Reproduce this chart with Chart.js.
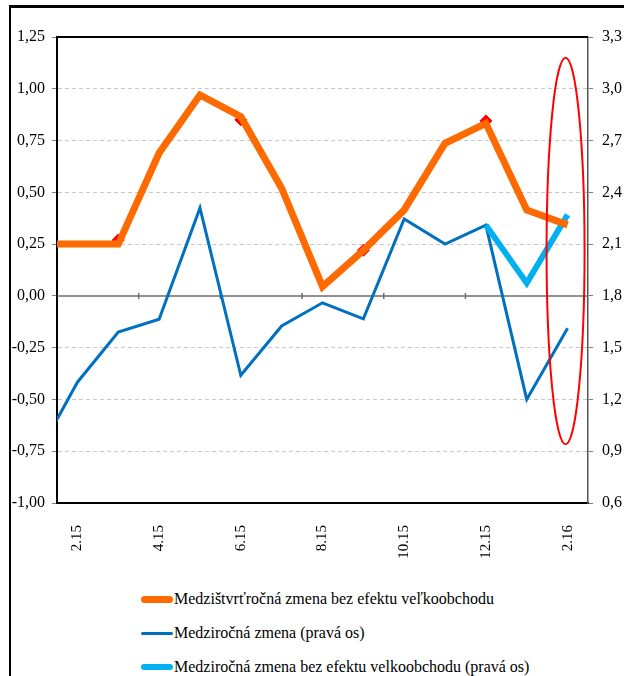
<!DOCTYPE html>
<html>
<head>
<meta charset="utf-8">
<script src="https://cdn.jsdelivr.net/npm/chart.js@4.4.1/dist/chart.umd.min.js"></script>
<style>
  html, body { margin: 0; padding: 0; background: #fff; }
  body { width: 624px; height: 676px; position: relative; overflow: hidden; }
  .frame-top { position: absolute; left: 9px; top: 5px; width: 615px; height: 3px; background: #000; z-index: 5; }
  .frame-left { position: absolute; left: 9px; top: 5px; width: 2px; height: 671px; background: #000; z-index: 5; }
  #chart { position: absolute; left: 0; top: 0; }
  .legend { position: absolute; left: 141px; top: 582px;
            font-family: "Liberation Serif", "DejaVu Serif", serif; font-size: 16px; color: #000; }
  .legend .row { height: 34px; display: flex; align-items: center; white-space: nowrap; }
  .legend .swatch { display: inline-block; width: 32px; border-radius: 4px; margin-right: 1px; }
</style>
</head>
<body>
<canvas id="chart" width="624" height="560"></canvas>
<div class="legend" id="legend"></div>
<div class="frame-top"></div>
<div class="frame-left"></div>

<script>
// === Data ===
const months = ["1.15", "2.15", "3.15", "4.15", "5.15", "6.15", "7.15", "8.15", "9.15", "10.15", "11.15", "12.15", "1.16", "2.16"];
const quarterlyExWholesale = [0.25, 0.25, 0.25, 0.69, 0.97, 0.865, 0.52, 0.045, 0.22, 0.415, 0.737, 0.833, 0.415, 0.343];
const quarterlyMarkers = [null, null, 0.27, null, null, 0.85, null, null, 0.22, null, null, 0.845, null, null];
const yearly = [0.87, 1.30, 1.59, 1.665, 2.31, 1.34, 1.626, 1.76, 1.667, 2.246, 2.10, 2.21, 1.20, 1.613];
const yearlyExWholesale = [null, null, null, null, null, null, null, null, null, null, null, 2.21, 1.874, 2.27];

const seriesNames = [
  "Medzištvrťročná zmena bez efektu veľkoobchodu",
  "Medziročná zmena (pravá os)",
  "Medziročná zmena bez efektu velkoobchodu (pravá os)"
];

// highlighted month (red ellipse), in right axis units
const highlightMonth = "2.16";
const highlightTop = 3.18;
const highlightBottom = 0.94;

const ORANGE = "#ff6a00";
const BLUE = "#0070c0";
const CYAN = "#00b0f0";
const FONT = "'Liberation Serif', 'DejaVu Serif', serif";

const fmt = (v, d) => v.toFixed(d).replace(".", ",");

// === Extras: zero line, axis ticks, top border, ellipse ===
const extrasPlugin = {
  id: "extras",
  beforeDatasetsDraw(chart) {
    const { ctx, chartArea: a, scales } = chart;
    const x = scales.x, y = scales.y;
    const y0 = y.getPixelForValue(0);
    ctx.save();
    ctx.strokeStyle = "#6e6e6e";
    ctx.lineWidth = 1.5;
    ctx.beginPath();
    ctx.moveTo(a.left, y0);
    ctx.lineTo(a.right, y0);
    for (let i = 3; i < months.length; i += 2) {
      const px = (x.getPixelForValue(i - 1) + x.getPixelForValue(i)) / 2;
      ctx.moveTo(px, y0 - 3);
      ctx.lineTo(px, y0 + 3);
    }
    ctx.stroke();
    ctx.restore();
  },
  afterDraw(chart) {
    const { ctx, chartArea: a, scales } = chart;
    ctx.save();
    ctx.strokeStyle = "#000";
    ctx.lineWidth = 2;
    ctx.beginPath();
    ctx.moveTo(a.left - 1, a.top);
    ctx.lineTo(a.right, a.top);
    ctx.stroke();

    const cx = scales.x.getPixelForValue(months.indexOf(highlightMonth)) - 2;
    const top = scales.y1.getPixelForValue(highlightTop);
    const bottom = scales.y1.getPixelForValue(highlightBottom);
    ctx.strokeStyle = "#ff0000";
    ctx.lineWidth = 2;
    ctx.beginPath();
    ctx.ellipse(cx, (top + bottom) / 2, 19, (bottom - top) / 2, 0, 0, Math.PI * 2);
    ctx.stroke();
    ctx.restore();
  }
};

new Chart(document.getElementById("chart"), {
  type: "line",
  data: {
    labels: months,
    datasets: [
      {
        label: "markers",
        data: quarterlyMarkers,
        yAxisID: "y",
        showLine: false,
        pointStyle: "rectRot",
        pointRadius: 6,
        pointBackgroundColor: "#ff0000",
        pointBorderColor: "#ff0000",
        order: 5
      },
      {
        label: seriesNames[0],
        data: quarterlyExWholesale,
        yAxisID: "y",
        borderColor: ORANGE,
        borderWidth: 7,
        pointRadius: 0,
        tension: 0,
        order: 1
      },
      {
        label: seriesNames[1],
        data: yearly,
        yAxisID: "y1",
        borderColor: BLUE,
        borderWidth: 3,
        pointRadius: 0,
        tension: 0,
        order: 3
      },
      {
        label: seriesNames[2],
        data: yearlyExWholesale,
        yAxisID: "y1",
        borderColor: CYAN,
        borderWidth: 6,
        pointRadius: 0,
        tension: 0,
        order: 2
      }
    ]
  },
  options: {
    responsive: false,
    animation: false,
    layout: { padding: { top: 37, left: 0, right: 0, bottom: 0 } },
    plugins: {
      legend: { display: false },
      tooltip: { enabled: false }
    },
    scales: {
      x: {
        type: "category",
        min: "2.15",
        offset: true,
        afterFit: (s) => { s.height = 57; },
        grid: { display: false },
        border: { color: "#000", width: 2 },
        ticks: {
          autoSkip: false,
          maxRotation: 90,
          minRotation: 90,
          padding: 14,
          color: "#000",
          font: { family: FONT, size: 15 },
          callback(val) { return val % 2 === 1 ? months[val] : ""; }
        }
      },
      y: {
        position: "left",
        min: -1,
        max: 1.25,
        afterFit: (s) => { s.width = 57; },
        border: { color: "#000", width: 2, dash: [4, 3] },
        grid: {
          color: (c) => (c.tick && c.tick.value === 0) ? "rgba(0,0,0,0)" : "#c8c8c8",
          lineWidth: 1,
          tickLength: 5,
          tickColor: "#808080",
          tickBorderDash: []
        },
        ticks: {
          stepSize: 0.25,
          padding: 7,
          color: "#000",
          font: { family: FONT, size: 16 },
          callback: (v) => fmt(v, 2)
        }
      },
      y1: {
        position: "right",
        min: 0.6,
        max: 3.3,
        afterFit: (s) => { s.width = 36; },
        border: { color: "#555", width: 1.5 },
        grid: { drawOnChartArea: false, tickLength: 5, tickColor: "#808080" },
        ticks: {
          stepSize: 0.3,
          padding: 9,
          color: "#000",
          font: { family: FONT, size: 16 },
          callback: (v) => fmt(v, 1)
        }
      }
    }
  },
  plugins: [extrasPlugin]
});

// === Legend ===
const legendItems = [
  { color: ORANGE, width: 7 },
  { color: BLUE, width: 3 },
  { color: CYAN, width: 6 }
];
document.getElementById("legend").innerHTML = legendItems.map((it, i) => `
  <div class="row"><span class="swatch" style="height:${it.width}px;background:${it.color}"></span>${seriesNames[i]}</div>
`).join("");
</script>
</body>
</html>
